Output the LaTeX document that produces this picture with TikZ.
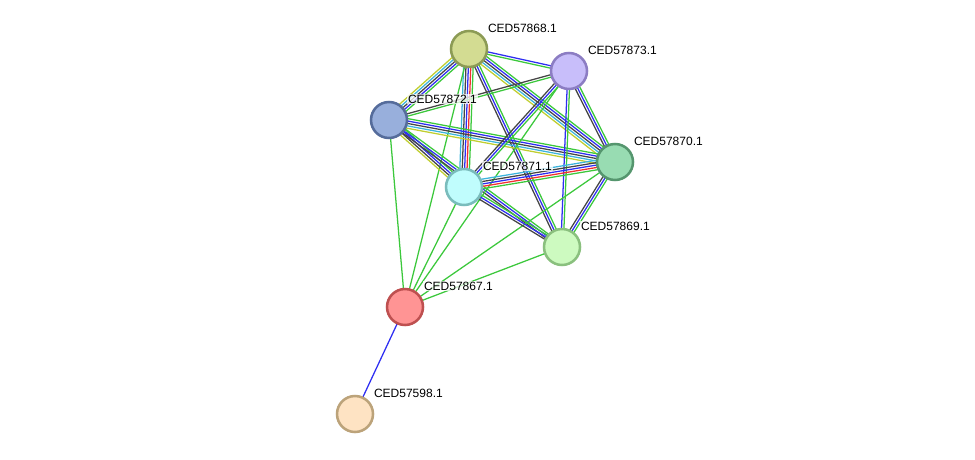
\documentclass[tikz,border=0pt]{standalone}
\usepackage{fontspec}
\setmainfont{Liberation Sans}
\usetikzlibrary{calc}

% evidence colours
\definecolor{ngreen}{HTML}{3CC83C}
\definecolor{nblue}{HTML}{2E2EF2}
\definecolor{nblack}{HTML}{454545}
\definecolor{ncyan}{HTML}{3CB4DC}
\definecolor{nyellow}{HTML}{C0CE30}
\definecolor{nred}{HTML}{F23030}

\pgfdeclarelayer{background}
\pgfsetlayers{background,main}

\tikzset{
  prot/.style={circle, minimum size=27pt, inner sep=0pt, line width=1.9pt},
  lbl/.style={anchor=west, font=\fontsize{9pt}{10pt}\selectfont, inner sep=0.6pt, fill=white, fill opacity=0.75, text opacity=1},
  edge/.style={line width=0.95pt},
}

% bundle of parallel lines between two proteins
\newcommand{\ppiedge}[3]{%
  \foreach \col [count=\n] in {#3} {\xdef\ppin{\n}}%
  \foreach \col [count=\i] in {#3} {%
    \pgfmathsetmacro{\off}{(\i-(\ppin+1)/2)*1.8}%
    \draw[edge, \col] ($(#1)!\off pt!90:(#2)$) -- ($(#2)!\off pt!-90:(#1)$);
  }%
}

% protein label
\newcommand{\plabel}[2]{%
  \node[lbl] (l#1) at ($(#1)+(18,-21)$) {#2};
}

\begin{document}
\begin{tikzpicture}[x=0.75pt, y=-0.75pt]
  \useasboundingbox (0,0) rectangle (975,460);

  % --- proteins ---
  \node[prot, fill={rgb,255:red,211;green,220;blue,146}, draw={rgb,255:red,140;green,155;blue,85}] (p68) at (469,49) {};
  \node[prot, fill={rgb,255:red,200;green,190;blue,250}, draw={rgb,255:red,140;green,125;blue,195}] (p73) at (569,71) {};
  \node[prot, fill={rgb,255:red,152;green,175;blue,220}, draw={rgb,255:red,85;green,108;blue,155}] (p72) at (389,120) {};
  \node[prot, fill={rgb,255:red,152;green,220;blue,178}, draw={rgb,255:red,85;green,150;blue,110}] (p70) at (615,162) {};
  \node[prot, fill={rgb,255:red,192;green,253;blue,253}, draw={rgb,255:red,122;green,188;blue,188}] (p71) at (464,187) {};
  \node[prot, fill={rgb,255:red,205;green,250;blue,192}, draw={rgb,255:red,138;green,192;blue,126}] (p69) at (562,247) {};
  \node[prot, fill={rgb,255:red,255;green,148;blue,148}, draw={rgb,255:red,190;green,80;blue,80}] (p67) at (405,307) {};
  \node[prot, fill={rgb,255:red,254;green,227;blue,195}, draw={rgb,255:red,188;green,163;blue,122}] (p598) at (355,414) {};

  % --- interactions ---
  \begin{pgfonlayer}{background}
    \ppiedge{p68}{p73}{ngreen,nblue}
    \ppiedge{p68}{p72}{nyellow,ncyan,nblack,nblue,ngreen}
    \ppiedge{p68}{p71}{ncyan,nblack,nblue,nred,ngreen}
    \ppiedge{p68}{p70}{nyellow,ncyan,nblack,nblue,ngreen}
    \ppiedge{p68}{p69}{nblack,nblue,ngreen}
    \ppiedge{p68}{p67}{ngreen}
    \ppiedge{p72}{p73}{ngreen,nblack}
    \ppiedge{p72}{p70}{nyellow,ncyan,nblack,nblue,ngreen}
    \ppiedge{p72}{p71}{nyellow,nblack,nblue,ngreen}
    \ppiedge{p72}{p69}{nblack,nblue,ngreen}
    \ppiedge{p72}{p67}{ngreen}
    \ppiedge{p73}{p70}{nblack,nblue,ngreen}
    \ppiedge{p73}{p71}{nblack,nblue,ngreen}
    \ppiedge{p73}{p69}{nblue,ngreen}
    \ppiedge{p73}{p67}{ngreen}
    \ppiedge{p70}{p71}{ncyan,nblack,nblue,nred,ngreen}
    \ppiedge{p70}{p69}{nblack,nblue,ngreen}
    \ppiedge{p70}{p67}{ngreen}
    \ppiedge{p71}{p69}{nblack,nblue,ngreen}
    \ppiedge{p71}{p67}{ngreen}
    \ppiedge{p69}{p67}{ngreen}
    \ppiedge{p67}{p598}{nblue}
  \end{pgfonlayer}

  % --- labels ---
  \plabel{p68}{CED57868.1}
  \plabel{p73}{CED57873.1}
  \plabel{p72}{CED57872.1}
  \plabel{p70}{CED57870.1}
  \plabel{p71}{CED57871.1}
  \plabel{p69}{CED57869.1}
  \plabel{p67}{CED57867.1}
  \plabel{p598}{CED57598.1}
\end{tikzpicture}
\end{document}
